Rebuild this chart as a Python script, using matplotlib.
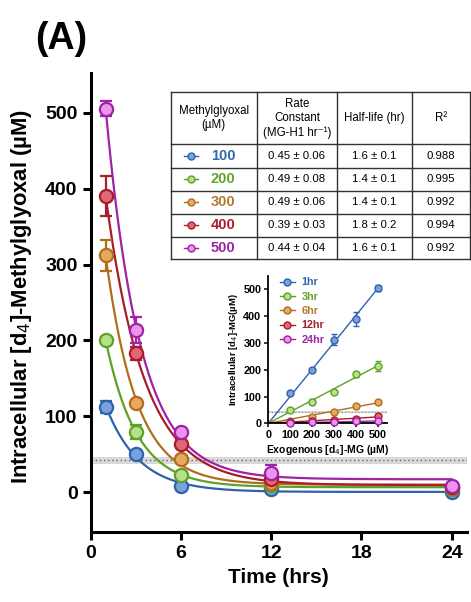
import matplotlib
matplotlib.use("Agg")
import matplotlib.pyplot as plt
import numpy as np
from matplotlib.lines import Line2D

plt.rcParams["font.family"] = ["Liberation Sans", "DejaVu Sans"]

# --- data ---
times = [1, 3, 6, 12, 24]
concs = [100, 200, 300, 400, 500]
conc_labels = ["100", "200", "300", "400", "500"]

mg_100 = [113, 50, 8, 4.5, 0]
mg_200 = [200, 80, 23, 10, 5]
mg_300 = [312, 118, 44, 12, 6]
mg_400 = [390, 183, 64, 18, 7]
mg_500 = [505, 214, 80, 26, 8]

err_100 = [8, 4, 3, 2, 2]
err_200 = [5, 9, 4, 3, 2]
err_300 = [20, 4, 4, 3, 2]
err_400 = [26, 9, 5, 6, 2]
err_500 = [10, 17, 4, 10, 2]

rate_k = [0.45, 0.49, 0.49, 0.39, 0.44]
rate_txt = ["0.45 ± 0.06", "0.49 ± 0.08", "0.49 ± 0.06", "0.39 ± 0.03", "0.44 ± 0.04"]
half_txt = ["1.6 ± 0.1", "1.4 ± 0.1", "1.4 ± 0.1", "1.8 ± 0.2", "1.6 ± 0.1"]
r2_txt = ["0.988", "0.995", "0.992", "0.994", "0.992"]

inset_labels = ["1hr", "3hr", "6hr", "12hr", "24hr"]

lod_low, lod_mid, lod_high = 38, 42.5, 47

series = [mg_100, mg_200, mg_300, mg_400, mg_500]
errors = [err_100, err_200, err_300, err_400, err_500]

line_cols = ["#2f62ad", "#5ea126", "#b06e1c", "#a81c2c", "#a022a6"]
face_cols = ["#79a2dc", "#b6e08a", "#e8a95e", "#e06874", "#ec94ec"]
text_cols = ["#3566b0", "#62a52a", "#b07a2a", "#a81f2f", "#9b27a0"]

fig = plt.figure(figsize=(4.71, 6.02), dpi=100)
ax = fig.add_axes([0.1926, 0.1163, 0.7984, 0.7624])

ax.axhspan(lod_low, lod_high, color="#d9d9d9", lw=0, zorder=0)
ax.axhline(lod_mid, color="#666666", lw=1.0, ls=(0, (1, 2)), zorder=1)

tt = np.linspace(1, 24, 300)
for vals, err, k, lc, fc in zip(series, errors, rate_k, line_cols, face_cols):
    t = np.array(times, float)
    y = np.array(vals, float)
    # one-phase decay with the table's rate constant: y = A*exp(-k t) + P
    M = np.column_stack([np.exp(-k * t), np.ones_like(t)])
    A, P = np.linalg.lstsq(M, y, rcond=None)[0]
    ax.plot(tt, A * np.exp(-k * tt) + P, color=lc, lw=1.6, zorder=2)
    ax.errorbar(times, vals, yerr=err, fmt="o", ms=9.5, mfc=fc, mec=lc, mew=1.6,
                ecolor=lc, elinewidth=1.6, capsize=4, capthick=1.6, zorder=3,
                clip_on=False)

ax.set_xlim(0, 25)
ax.set_ylim(-52, 552)
ax.set_xticks([0, 6, 12, 18, 24])
ax.set_yticks([0, 100, 200, 300, 400, 500])
for s in ["top", "right"]:
    ax.spines[s].set_visible(False)
for s in ["left", "bottom"]:
    ax.spines[s].set_linewidth(2.2)
ax.tick_params(width=2.2, length=6, labelsize=14)
for lab in ax.get_xticklabels() + ax.get_yticklabels():
    lab.set_fontweight("bold")
ax.set_xlabel("Time (hrs)", fontsize=15, fontweight="bold", labelpad=4)
ax.set_ylabel("Intracellular [d$_4$]-Methylglyoxal (µM)", fontsize=15.8,
              fontweight="bold")
ax.yaxis.set_label_coords(-0.15, 0.514)
fig.text(0.13, 0.935, "(A)", fontsize=27, fontweight="bold", ha="center", va="center")

# --- inset ---
ax_in = fig.add_axes([0.5697, 0.2968, 0.2513, 0.2447])
ax_in.axhspan(lod_low, lod_high, color="#d9d9d9", lw=0, zorder=0)
ax_in.axhline(lod_mid, color="#888888", lw=0.8, ls=(0, (1, 2)), zorder=1)
xs = np.array(concs, float)
xx = np.array([0, 500.0])
for i, (lab, lc, fc, tc) in enumerate(zip(inset_labels, line_cols, face_cols, text_cols)):
    ys = np.array([s[i] for s in series], float)
    es = [e[i] for e in errors]
    slope = np.sum(xs * ys) / np.sum(xs * xs)
    ax_in.plot(xx, slope * xx, color=lc, lw=1.0, zorder=2)
    ax_in.errorbar(concs, ys, yerr=es, fmt="o", ms=5, mfc=fc, mec=lc, mew=1.0,
                   ecolor=lc, elinewidth=1.0, capsize=2.5, capthick=1.0, zorder=3,
                   clip_on=False)
ax_in.set_xlim(0, 541)
ax_in.set_ylim(0, 550)
ax_in.set_xticks([0, 100, 200, 300, 400, 500])
ax_in.set_yticks([0, 100, 200, 300, 400, 500])
for s in ["top", "right"]:
    ax_in.spines[s].set_visible(False)
for s in ["left", "bottom"]:
    ax_in.spines[s].set_linewidth(1.3)
ax_in.tick_params(width=1.1, length=3, labelsize=7.8, pad=2)
for lab in ax_in.get_xticklabels() + ax_in.get_yticklabels():
    lab.set_fontweight("bold")
ax_in.set_xlabel("Exogenous [d$_4$]-MG (µM)", fontsize=7.5, fontweight="bold", labelpad=2)
ax_in.set_ylabel("Intracellular [d$_4$]-MG(µM)", fontsize=6.8, fontweight="bold", labelpad=2)
handles = [Line2D([], [], color=lc, lw=1.0, marker="o", ms=5, mfc=fc, mec=lc, mew=1.0)
           for lc, fc in zip(line_cols, face_cols)]
leg = ax_in.legend(handles, inset_labels, loc="upper left", bbox_to_anchor=(0.06, 1.02),
                   frameon=False, fontsize=7.8, handlelength=1.4, handletextpad=0.6,
                   labelspacing=0.4, borderaxespad=0)
for txt, tc in zip(leg.get_texts(), text_cols):
    txt.set_color(tc)
    txt.set_fontweight("bold")

# --- table ---
x0, x1 = 170.7, 470.0
y0, y1 = 92.3, 259.0
tab = fig.add_axes([x0 / 471, 1 - y1 / 602, (x1 - x0) / 471, (y1 - y0) / 602])
tab.set_xlim(x0, x1)
tab.set_ylim(y1, y0)
tab.axis("off")
col_edges = [170.7, 256.7, 337.3, 411.7, 469.5]
row_edges = [92.3, 144.3, 167.5, 190.5, 213.5, 236.5, 259.0]
for cx in col_edges:
    tab.plot([cx, cx], [y0, y1], color="#333333", lw=1.0, clip_on=False)
for ry in row_edges:
    tab.plot([x0, col_edges[-1]], [ry, ry], color="#333333", lw=1.0, clip_on=False)

centers = [(a + b) / 2 for a, b in zip(col_edges[:-1], col_edges[1:])]
hy = (row_edges[0] + row_edges[1]) / 2
headers = ["Methylglyoxal\n(µM)", "Rate\nConstant\n(MG-H1 hr\u207b\u00b9)", "Half-life (hr)", "R\u00b2"]
for cx, h in zip(centers, headers):
    tab.text(cx, hy, h, ha="center", va="center", fontsize=8.3, linespacing=1.25)

for i in range(5):
    ry = (row_edges[i + 1] + row_edges[i + 2]) / 2
    tab.plot([184, 198], [ry, ry], color=line_cols[i], lw=1.0)
    tab.plot([191], [ry], "o", ms=5, mfc=face_cols[i], mec=line_cols[i], mew=1.0)
    tab.text(223, ry, conc_labels[i], ha="center", va="center", fontsize=10.5,
             fontweight="bold", color=text_cols[i])
    tab.text(centers[1], ry, rate_txt[i], ha="center", va="center", fontsize=8.2)
    tab.text(centers[2], ry, half_txt[i], ha="center", va="center", fontsize=8.2)
    tab.text(centers[3], ry, r2_txt[i], ha="center", va="center", fontsize=8.2)

fig.savefig("out.png", dpi=100)
